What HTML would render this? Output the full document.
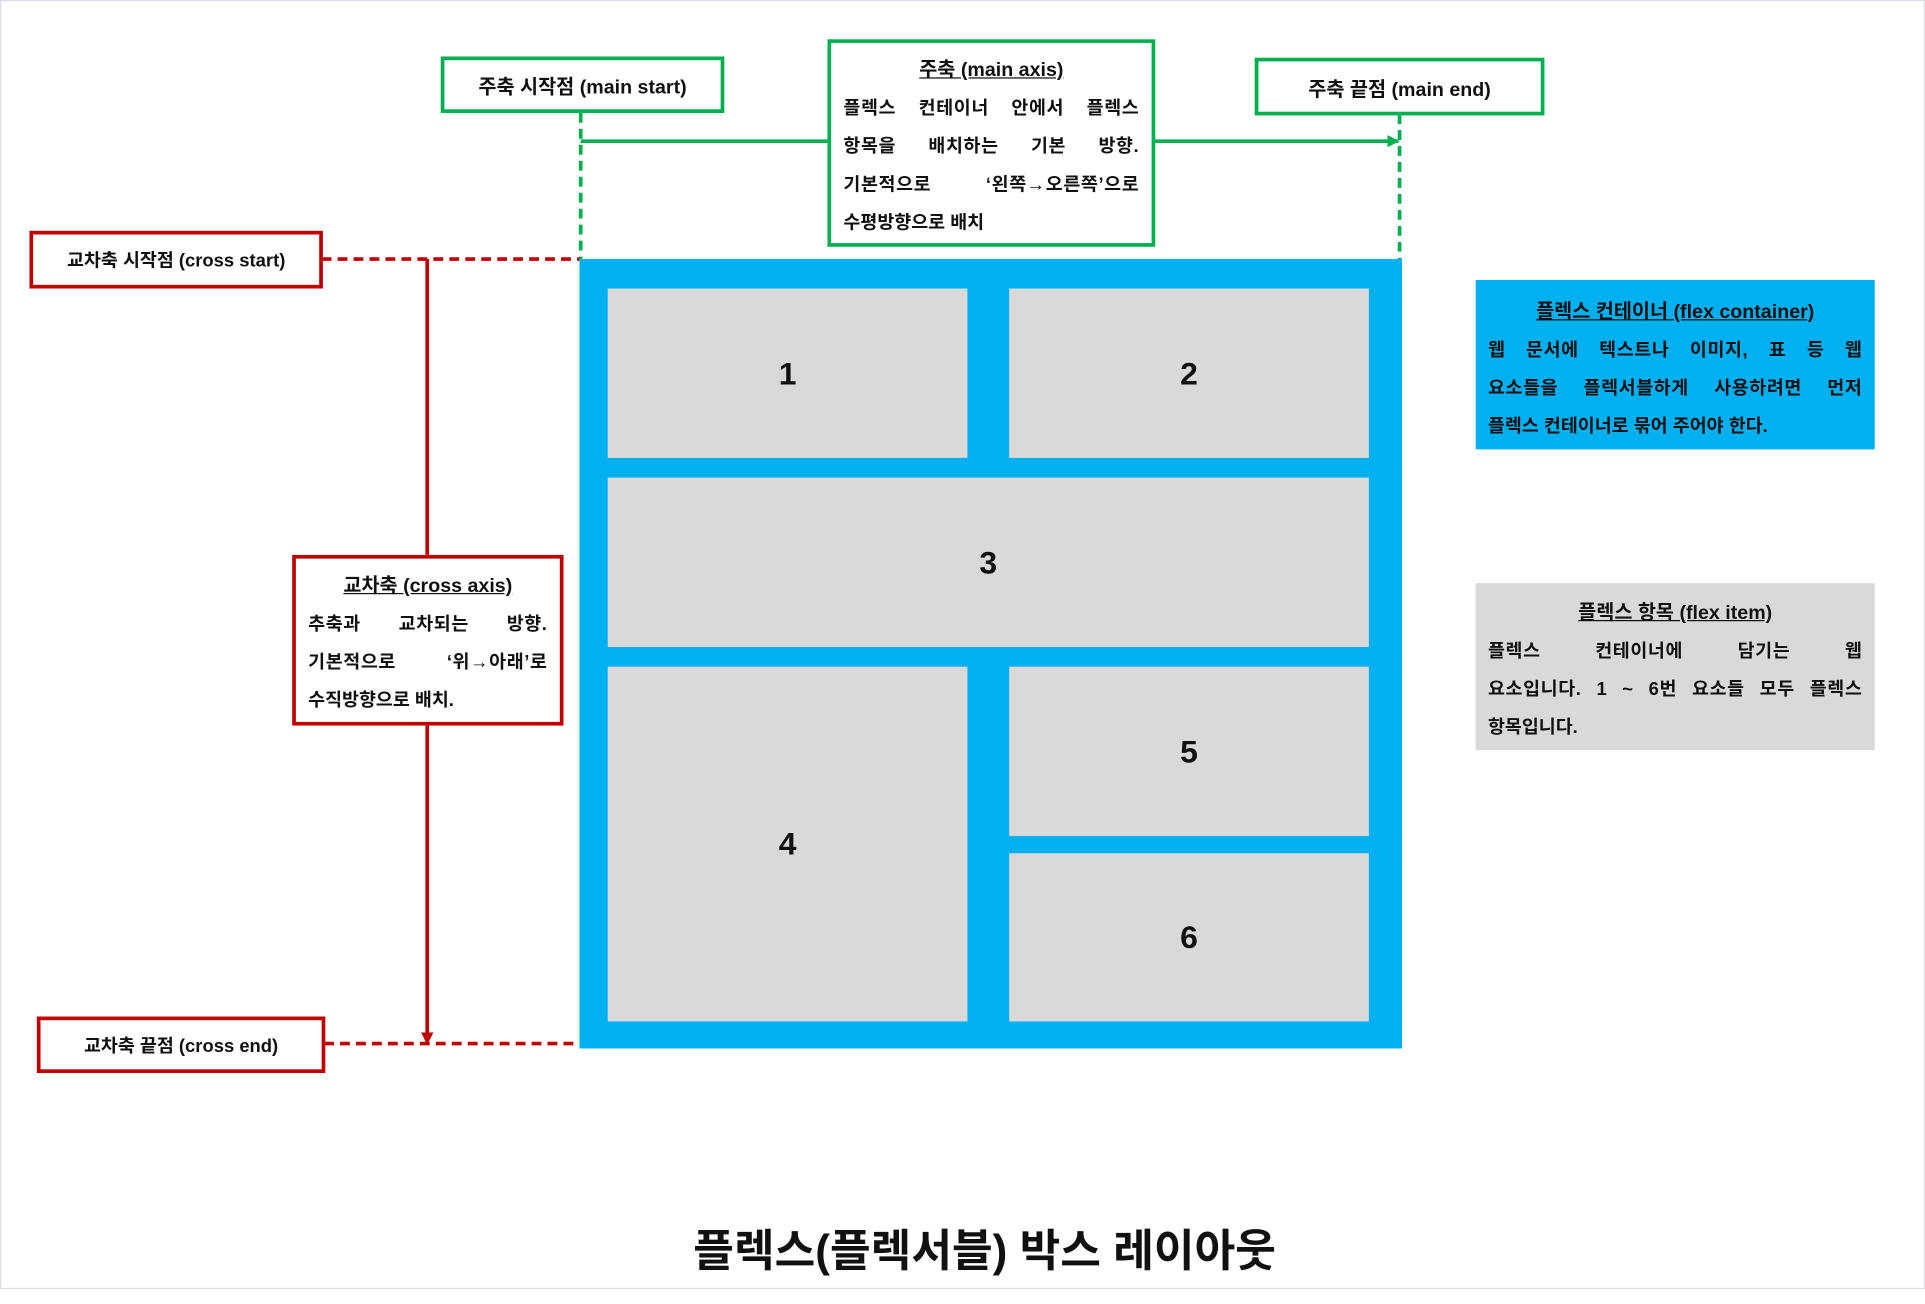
<!DOCTYPE html>
<html><head><meta charset="utf-8"><style>
html,body{margin:0;padding:0;background:#fff;}
body{width:1925px;height:1304px;overflow:hidden;position:relative;}
#s{position:absolute;left:0;top:0;width:1568px;height:1062px;transform:scale(1.2277);transform-origin:0 0;font-family:"Liberation Sans","Noto Sans CJK KR",sans-serif;color:#111;}
.a{position:absolute;box-sizing:border-box;}
.g{border:3px solid #00b050;background:#fff;}
.r{border:3px solid #c00000;background:#fff;}
.lbl{display:flex;align-items:center;justify-content:center;font-weight:bold;font-size:16px;white-space:nowrap;}
.it{background:#d9d9d9;display:flex;align-items:center;justify-content:center;font-weight:bold;font-size:26px;}
.tx{font-size:15px;font-weight:bold;line-height:31px;padding:0 10px;}
.tx .t{text-align:center;text-decoration:underline;font-size:16px;}
.j{text-align:justify;text-align-last:justify;letter-spacing:0.5px;}
</style></head><body><div id="s">
<div class="a" style="left:0;top:0;width:1568px;height:1050px;border:1px solid #d8dde6"></div>
<svg class="a" style="left:0;top:0" width="1568" height="1062">
<defs><marker id="ag" markerWidth="10" markerHeight="10" refX="9" refY="5" orient="auto" markerUnits="userSpaceOnUse"><path d="M0,0L10,5L0,10z" fill="#00b050"/></marker>
<marker id="ar" markerWidth="10" markerHeight="10" refX="9" refY="5" orient="auto" markerUnits="userSpaceOnUse"><path d="M0,0L10,5L0,10z" fill="#c00000"/></marker></defs>
<line x1="473" y1="92" x2="473" y2="211" stroke="#00b050" stroke-width="3" stroke-dasharray="8,5"/>
<line x1="1140" y1="93" x2="1140" y2="211" stroke="#00b050" stroke-width="3" stroke-dasharray="8,5"/>
<line x1="473" y1="115" x2="674" y2="115" stroke="#00b050" stroke-width="3"/>
<line x1="940" y1="115" x2="1139" y2="115" stroke="#00b050" stroke-width="3" marker-end="url(#ag)"/>
<line x1="262" y1="211" x2="472" y2="211" stroke="#c00000" stroke-width="3" stroke-dasharray="8,5"/>
<line x1="264" y1="850" x2="472" y2="850" stroke="#c00000" stroke-width="3" stroke-dasharray="8,5"/>
<line x1="348" y1="211" x2="348" y2="452" stroke="#c00000" stroke-width="3"/>
<line x1="348" y1="590" x2="348" y2="850" stroke="#c00000" stroke-width="3" marker-end="url(#ar)"/>
</svg>
<div class="a g lbl" style="left:359px;top:46px;width:231px;height:46px">주축 시작점 (main start)</div>
<div class="a g lbl" style="left:1022px;top:47px;width:236px;height:47px">주축 끝점 (main end)</div>
<div class="a g tx" style="left:674px;top:32px;width:267px;height:169px;padding-top:7px">
<div class="t">주축 (main axis)</div>
<div class="j">플렉스 컨테이너 안에서 플렉스</div>
<div class="j">항목을 배치하는 기본 방향.</div>
<div class="j">기본적으로 ‘왼쪽→오른쪽’으로</div>
<div>수평방향으로 배치</div></div>
<div class="a r lbl" style="left:24px;top:188px;width:239px;height:47px;font-size:15px">교차축 시작점 (cross start)</div>
<div class="a r lbl" style="left:30px;top:828px;width:235px;height:46px;font-size:15px">교차축 끝점 (cross end)</div>
<div class="a r tx" style="left:238px;top:452px;width:221px;height:139px;padding-top:7px">
<div class="t">교차축 (cross axis)</div>
<div class="j">추축과 교차되는 방향.</div>
<div class="j">기본적으로 ‘위→아래’로</div>
<div>수직방향으로 배치.</div></div>
<div class="a" style="left:472px;top:211px;width:670px;height:643px;background:#00b0f0"></div>
<div class="a it" style="left:495px;top:235px;width:293px;height:138px">1</div>
<div class="a it" style="left:822px;top:235px;width:293px;height:138px">2</div>
<div class="a it" style="left:495px;top:389px;width:620px;height:138px">3</div>
<div class="a it" style="left:495px;top:543px;width:293px;height:289px">4</div>
<div class="a it" style="left:822px;top:543px;width:293px;height:138px">5</div>
<div class="a it" style="left:822px;top:695px;width:293px;height:137px">6</div>
<div class="a tx" style="left:1202px;top:228px;width:325px;height:138px;background:#00b0f0;padding-top:11px">
<div class="t">플렉스 컨테이너 (flex container)</div>
<div class="j">웹 문서에 텍스트나 이미지, 표 등 웹</div>
<div class="j">요소들을 플렉서블하게 사용하려면 먼저</div>
<div>플렉스 컨테이너로 묶어 주어야 한다.</div></div>
<div class="a tx" style="left:1202px;top:475px;width:325px;height:136px;background:#d9d9d9;padding-top:9px">
<div class="t">플렉스 항목 (flex item)</div>
<div class="j">플렉스 컨테이너에 담기는 웹</div>
<div class="j">요소입니다. 1 ~ 6번 요소들 모두 플렉스</div>
<div>항목입니다.</div></div>
<div class="a" style="left:0;top:994px;width:1604px;text-align:center;font-size:36px;font-weight:bold;line-height:50px">플렉스(플렉서블) 박스 레이아웃</div>
</div></body></html>
